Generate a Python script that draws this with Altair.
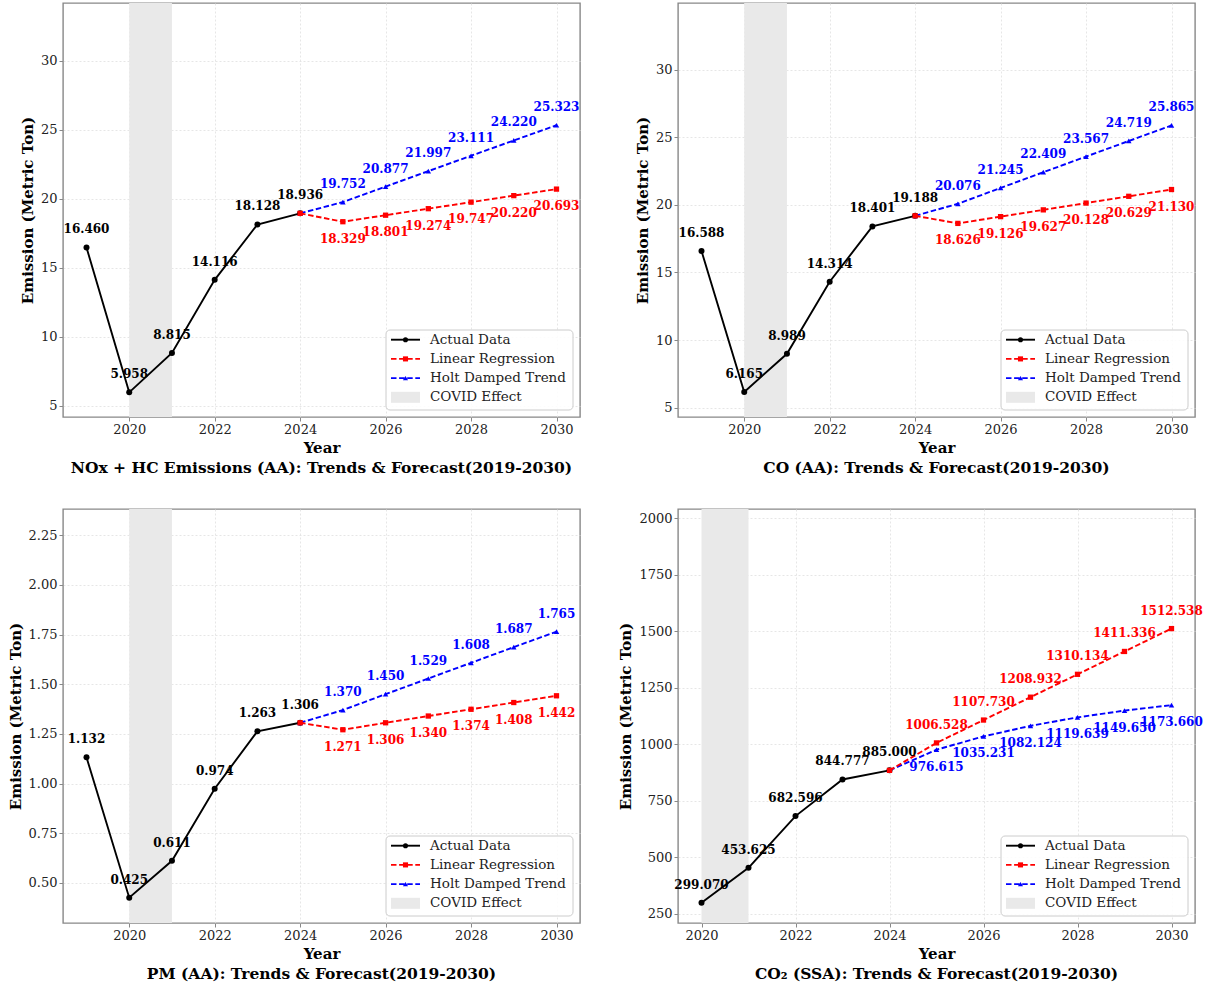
import altair as alt
import pandas as pd

FONT = "DejaVu Serif"
W, H = 517, 414

# ---- data -------------------------------------------------------------
YEAR_TICKS = [2020, 2022, 2024, 2026, 2028, 2030]
FORECAST_YEARS = [2025, 2026, 2027, 2028, 2029, 2030]
COVID_SPAN = [2020, 2021]

nox_years = [2019, 2020, 2021, 2022, 2023, 2024]
nox_actual = [16.460, 5.958, 8.815, 14.116, 18.128, 18.936]
nox_linear = [18.329, 18.801, 19.274, 19.747, 20.220, 20.693]
nox_holt = [19.752, 20.877, 21.997, 23.111, 24.220, 25.323]

co_years = [2019, 2020, 2021, 2022, 2023, 2024]
co_actual = [16.588, 6.165, 8.989, 14.314, 18.401, 19.188]
co_linear = [18.626, 19.126, 19.627, 20.128, 20.629, 21.130]
co_holt = [20.076, 21.245, 22.409, 23.567, 24.719, 25.865]

pm_years = [2019, 2020, 2021, 2022, 2023, 2024]
pm_actual = [1.132, 0.425, 0.611, 0.974, 1.263, 1.306]
pm_linear = [1.271, 1.306, 1.340, 1.374, 1.408, 1.442]
pm_holt = [1.370, 1.450, 1.529, 1.608, 1.687, 1.765]

co2_years = [2020, 2021, 2022, 2023, 2024]
co2_actual = [299.070, 453.625, 682.596, 844.777, 885.000]
co2_linear = [1006.528, 1107.730, 1208.932, 1310.134, 1411.336, 1512.538]
co2_holt = [976.615, 1035.231, 1082.124, 1119.639, 1149.650, 1173.660]

ticks_aa = [5, 10, 15, 20, 25, 30]
ticks_pm = [0.50, 0.75, 1.00, 1.25, 1.50, 1.75, 2.00, 2.25]
ticks_co2 = [250, 500, 750, 1000, 1250, 1500, 1750, 2000]

RED = "#ff0000"
BLUE = "#0000ff"
DASH = [5.5, 2.6]


def single_row():
    return pd.DataFrame({"k": [0]})


def legend_layers():
    """Framed key in the lower-right corner of a panel."""
    fw, fh = 187, 80
    fx, fy = W - 7 - fw, H - 7 - fh
    layers = [
        alt.Chart(single_row()).mark_rect(
            fill="white", fillOpacity=0.85, stroke="#cccccc", strokeWidth=1, cornerRadius=4
        ).encode(x=alt.value(fx), x2=alt.value(fx + fw), y=alt.value(fy), y2=alt.value(fy + fh))
    ]
    entries = [
        ("Actual Data", "black", None, "circle"),
        ("Linear Regression", RED, DASH, "square"),
        ("Holt Damped Trend", BLUE, DASH, "triangle-up"),
        ("COVID Effect", "#e9e9e9", None, None),
    ]
    for i, (label, color, dash, shape) in enumerate(entries):
        ry = fy + 9.7 + 19.2 * i
        if shape is None:
            layers.append(
                alt.Chart(single_row()).mark_rect(color=color).encode(
                    x=alt.value(fx + 5), x2=alt.value(fx + 34),
                    y=alt.value(ry - 5.5), y2=alt.value(ry + 5.5))
            )
        else:
            rule_kw = dict(color=color, strokeWidth=1.9)
            if dash:
                rule_kw["strokeDash"] = dash
            layers.append(
                alt.Chart(single_row()).mark_rule(**rule_kw).encode(
                    x=alt.value(fx + 5), x2=alt.value(fx + 34), y=alt.value(ry))
            )
            layers.append(
                alt.Chart(single_row()).mark_point(
                    shape=shape, filled=True, color=color, opacity=1, size=26
                ).encode(x=alt.value(fx + 19.5), y=alt.value(ry))
            )
        layers.append(
            alt.Chart(single_row()).mark_text(
                text=label, align="left", baseline="middle", font=FONT,
                fontSize=13.5, color="#222222"
            ).encode(x=alt.value(fx + 44), y=alt.value(ry))
        )
    return layers


def panel(title, years, actual, linear, holt, x_domain, y_ticks, y_format):
    all_vals = actual + linear + holt
    y_domain = [min(all_vals) * 0.7, max(all_vals) * 1.35]
    xs = alt.Scale(domain=x_domain, nice=False, zero=False)
    ys = alt.Scale(domain=y_domain, nice=False, zero=False)
    x_enc = alt.X("Year:Q", scale=xs,
                  axis=alt.Axis(values=YEAR_TICKS, format="d", title="Year", titlePadding=4))
    y_enc = alt.Y("Value:Q", scale=ys,
                  axis=alt.Axis(values=y_ticks, format=y_format, title="Emission (Metric Ton)"))

    actual_df = pd.DataFrame({"Year": years, "Value": actual})
    lin_df = pd.DataFrame({"Year": [years[-1]] + FORECAST_YEARS, "Value": [actual[-1]] + linear})
    holt_df = pd.DataFrame({"Year": [years[-1]] + FORECAST_YEARS, "Value": [actual[-1]] + holt})
    lin_lab = pd.DataFrame({"Year": FORECAST_YEARS, "Value": linear})
    holt_lab = pd.DataFrame({"Year": FORECAST_YEARS, "Value": holt})
    band_df = pd.DataFrame({"Year": [COVID_SPAN[0]], "Year2": [COVID_SPAN[1]]})

    decimals = ".3f"
    linear_on_top = linear[-1] > holt[-1]
    up, down = -18, 17

    band = alt.Chart(band_df).mark_rect(color="#e9e9e9").encode(
        x=x_enc, x2="Year2:Q", y=alt.value(0), y2=alt.value(H))

    def series(df, color, shape, dash, size):
        line_kw = dict(color=color, strokeWidth=1.9)
        if dash:
            line_kw["strokeDash"] = dash
        line = alt.Chart(df).mark_line(**line_kw).encode(x=x_enc, y=y_enc)
        pts = alt.Chart(df).mark_point(shape=shape, filled=True, color=color,
                                        opacity=1, size=size).encode(x=x_enc, y=y_enc)
        return [line, pts]

    def labels(df, color, dy):
        return alt.Chart(df).mark_text(
            font=FONT, fontSize=12, fontWeight="bold", color=color,
            align="center", baseline="middle", dy=dy
        ).encode(x=x_enc, y=y_enc, text=alt.Text("Value:Q", format=decimals))

    layers = [band]
    layers += series(actual_df, "black", "circle", None, 36)
    layers += series(holt_df, BLUE, "triangle-up", DASH, 30)
    layers += series(lin_df, RED, "square", DASH, 28)
    layers += [
        labels(actual_df, "black", up),
        labels(lin_lab, RED, up if linear_on_top else down),
        labels(holt_lab, BLUE, down if linear_on_top else up),
    ]
    layers += legend_layers()

    return alt.layer(*layers).properties(
        width=W, height=H,
        title=alt.TitleParams(
            text=title, orient="bottom", anchor="middle", frame="group",
            font=FONT, fontSize=15.5, fontWeight="bold", color="black", offset=6
        ),
    )


p1 = panel("NOx + HC Emissions (AA): Trends & Forecast(2019-2030)",
           nox_years, nox_actual, nox_linear, nox_holt, [2018.45, 2030.55], ticks_aa, "d")
p2 = panel("CO (AA): Trends & Forecast(2019-2030)",
           co_years, co_actual, co_linear, co_holt, [2018.45, 2030.55], ticks_aa, "d")
p3 = panel("PM (AA): Trends & Forecast(2019-2030)",
           pm_years, pm_actual, pm_linear, pm_holt, [2018.45, 2030.55], ticks_pm, ".2f")
p4 = panel("CO\u2082 (SSA): Trends & Forecast(2019-2030)",
           co2_years, co2_actual, co2_linear, co2_holt, [2019.5, 2030.5], ticks_co2, "d")

chart = alt.concat(p1, p2, p3, p4, columns=2, spacing={"row": 30, "column": 37}).properties(
    padding={"left": 7, "top": 2, "right": 5, "bottom": 4}
).configure_axis(
    labelFont=FONT, labelFontSize=13, labelColor="#222222",
    titleFont=FONT, titleFontSize=15, titleFontWeight="bold", titleColor="black",
    tickSize=4, tickColor="#888888", tickWidth=1, labelPadding=2, titlePadding=5,
    domain=False, grid=True, gridColor="#e0e0e0", gridDash=[2, 2], gridWidth=0.8,
).configure_view(stroke="#888888", strokeWidth=1.4)

chart.save("out.html", embed_options={"renderer": "svg", "actions": False})
